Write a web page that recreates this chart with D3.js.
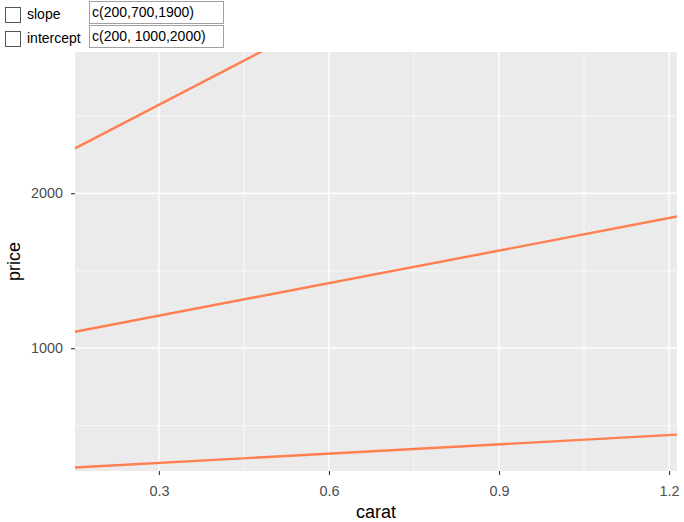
<!DOCTYPE html>
<html><head><meta charset="utf-8">
<script src="https://cdn.jsdelivr.net/npm/d3@7"></script>
<style>
body{margin:0;background:#fff;font-family:"Liberation Sans",Arial,sans-serif;}
.ctl{position:absolute;font-size:14px;color:#000;}
.cb{position:absolute;width:16px;height:16px;border:1px solid #555;background:#fff;box-sizing:border-box;}
.inp{position:absolute;height:23px;border:1px solid #a0a0a0;box-sizing:border-box;font-size:14px;padding:0 2px;line-height:20px;background:#fff;}
svg{position:absolute;left:0;top:0;}
</style></head>
<body>
<div id="ctls"></div>
<svg id="chart" width="684" height="522"></svg>
<script>
const slopeText = "c(200,700,1900)";
const interceptText = "c(200, 1000,2000)";
const slopes = [200, 700, 1900];
const intercepts = [200, 1000, 2000];
const xDomain = [0.152, 1.214];
const yDomain = [208, 2911];
const xMajor = [0.3, 0.6, 0.9, 1.2];
const xMinor = [0.45, 0.75, 1.05];
const yMajor = [1000, 2000];
const yMinor = [500, 1500, 2500];

const ctls = d3.select("#ctls");
const rows = [{label:"slope", val:slopeText, y:1, cb:7}, {label:"intercept", val:interceptText, y:25, cb:31}];
rows.forEach(r=>{
  ctls.append("div").attr("class","cb").style("left","5px").style("top",r.cb+"px");
  ctls.append("div").attr("class","ctl").style("left","27px").style("top",(r.cb-1)+"px").text(r.label);
  ctls.append("div").attr("class","inp").style("left","89px").style("top",r.y+"px").style("width","135px").text(r.val);
});

const svg = d3.select("#chart");
const L=75, R=677, T=52, B=471;
const x = d3.scaleLinear().domain(xDomain).range([L,R]);
const y = d3.scaleLinear().domain(yDomain).range([B,T]);

svg.append("rect").attr("x",L).attr("y",T).attr("width",R-L).attr("height",B-T).attr("fill","#EBEBEB");
const g = svg.append("g");
g.selectAll(".xmin").data(xMinor).join("line").attr("x1",d=>x(d)).attr("x2",d=>x(d)).attr("y1",T).attr("y2",B).attr("stroke","#fff").attr("stroke-width",0.7);
g.selectAll(".ymin").data(yMinor).join("line").attr("y1",d=>y(d)).attr("y2",d=>y(d)).attr("x1",L).attr("x2",R).attr("stroke","#fff").attr("stroke-width",0.7);
g.selectAll(".xmaj").data(xMajor).join("line").attr("x1",d=>x(d)).attr("x2",d=>x(d)).attr("y1",T).attr("y2",B).attr("stroke","#fff").attr("stroke-width",1.4);
g.selectAll(".ymaj").data(yMajor).join("line").attr("y1",d=>y(d)).attr("y2",d=>y(d)).attr("x1",L).attr("x2",R).attr("stroke","#fff").attr("stroke-width",1.4);

svg.append("clipPath").attr("id","clip").append("rect").attr("x",L).attr("y",T).attr("width",R-L).attr("height",B-T);
const lines = slopes.map((s,i)=>({s, b:intercepts[i]}));
svg.append("g").attr("clip-path","url(#clip)").selectAll("line").data(lines).join("line")
  .attr("x1",x(xDomain[0])).attr("x2",x(xDomain[1]))
  .attr("y1",d=>y(d.b + d.s*xDomain[0])).attr("y2",d=>y(d.b + d.s*xDomain[1]))
  .attr("stroke","#FF7F50").attr("stroke-width",2.4);

const xAxis = svg.append("g").attr("transform",`translate(0,${B})`).call(d3.axisBottom(x).tickValues(xMajor).tickSize(4).tickPadding(11).tickFormat(d3.format(".1f")));
const yAxis = svg.append("g").attr("transform",`translate(${L},0)`).call(d3.axisLeft(y).tickValues(yMajor).tickSize(4).tickPadding(8).tickFormat(d3.format("d")));
[xAxis,yAxis].forEach(a=>{
  a.attr("font-family","'Liberation Sans',Arial,sans-serif").attr("font-size",14.4);
  a.select(".domain").remove();
  a.selectAll(".tick line").attr("stroke","#333").attr("stroke-width",1.1);
  a.selectAll(".tick text").attr("fill","#4D4D4D");
});
svg.append("text").attr("x",(L+R)/2).attr("y",518).attr("text-anchor","middle").attr("font-family","'Liberation Sans',Arial,sans-serif").attr("font-size",18).text("carat");
svg.append("text").attr("transform",`translate(20,${(T+B)/2}) rotate(-90)`).attr("text-anchor","middle").attr("font-family","'Liberation Sans',Arial,sans-serif").attr("font-size",18).text("price");
</script>
</body></html>
